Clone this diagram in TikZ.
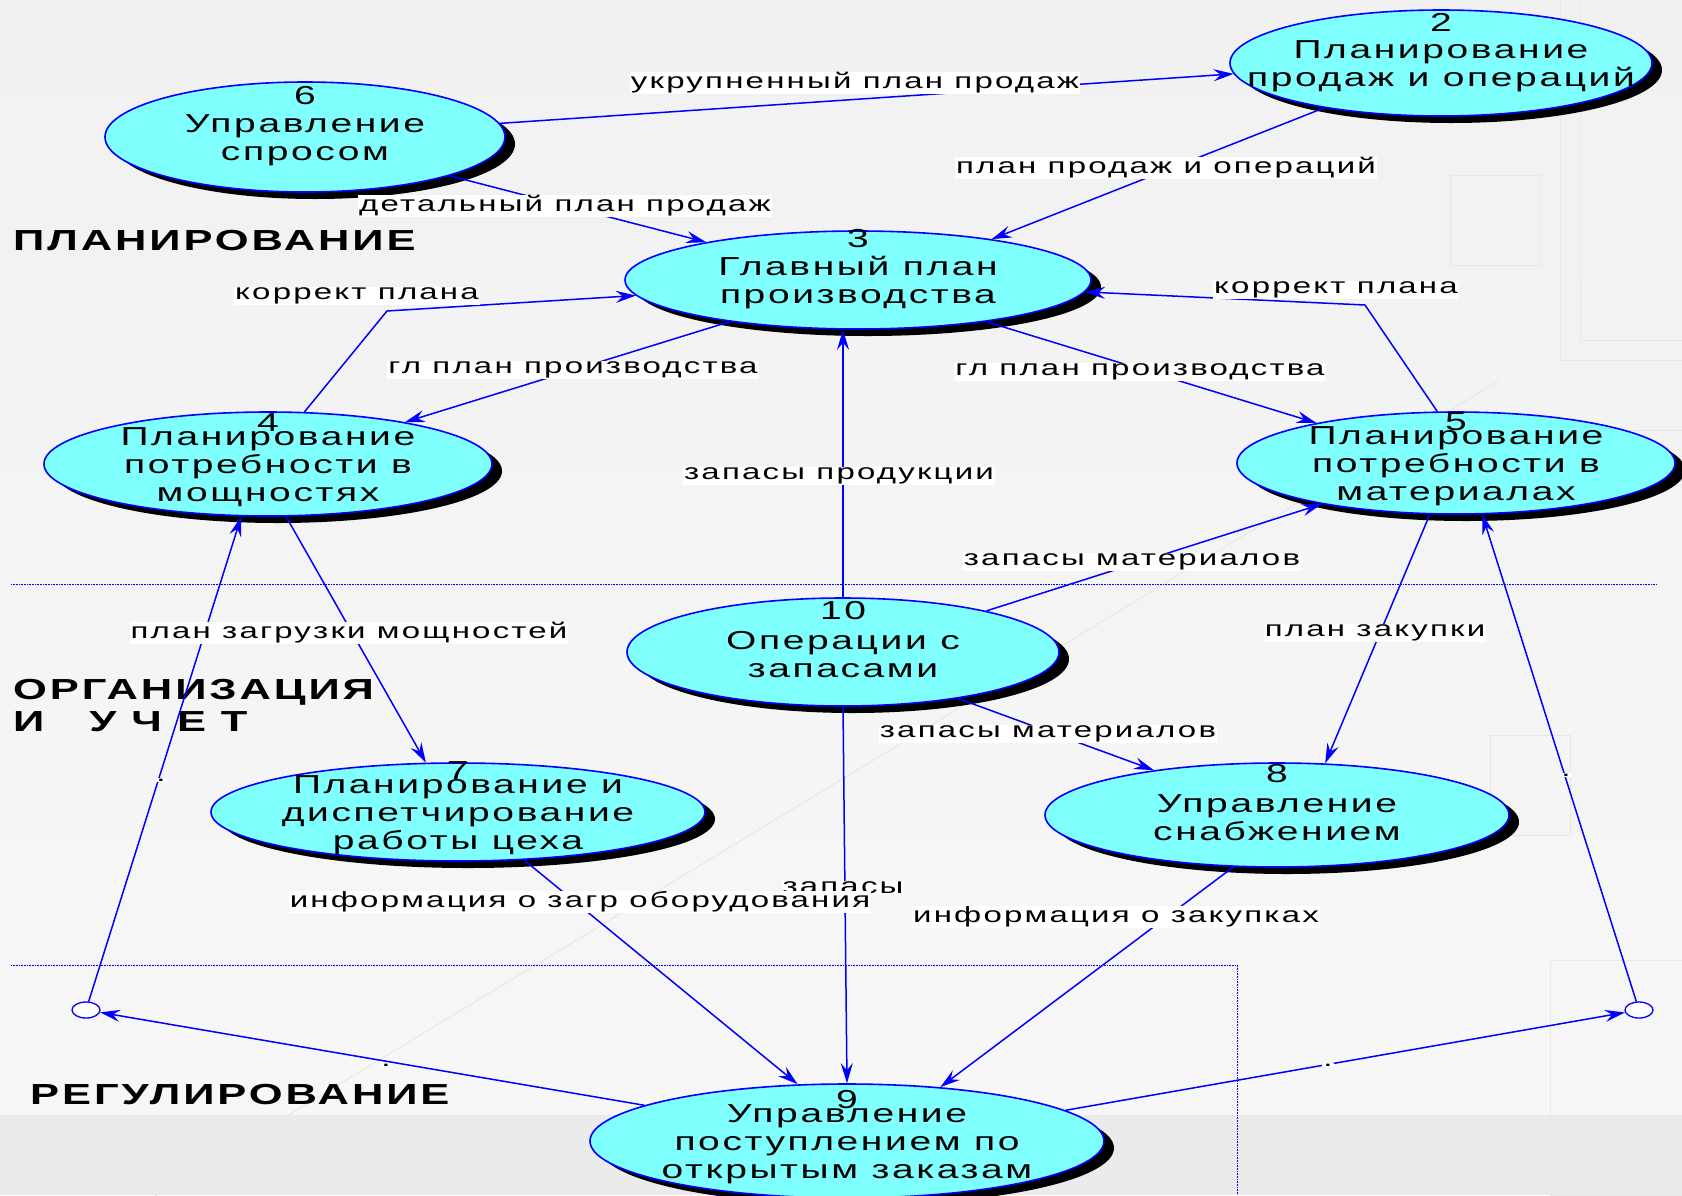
\documentclass[tikz,border=0pt]{standalone}
\usepackage{fontspec}
\setmainfont{Liberation Sans}[FakeStretch=1.5,LetterSpace=10]
\usetikzlibrary{shapes.geometric,arrows.meta,shadows,calc}
\definecolor{cyanfill}{HTML}{80FFFF}
\definecolor{bgtop}{HTML}{F1F1F1}
\definecolor{bgbot}{HTML}{F7F7F7}
\begin{document}
\begin{tikzpicture}[x=1pt,y=-1pt,
  proc/.style={ellipse, draw=blue, line width=1.6pt, fill=cyanfill, inner sep=0pt,
    drop shadow={shadow xshift=10pt, shadow yshift=-7pt, fill=black, opacity=1}},
  ptext/.style={align=center, inner sep=0pt, font=\fontsize{26}{28}\selectfont},
  num/.style={inner sep=0pt, font=\fontsize{26}{28}\selectfont},
  edge/.style={draw=blue, line width=1.5pt, -{Stealth[length=20pt,width=12pt,inset=7pt]}},
  lbl/.style={fill=white, inner sep=1pt, font=\fontsize{22}{24}\selectfont},
  sect/.style={anchor=west, align=left, inner sep=0pt, font=\fontsize{29}{32}\selectfont\bfseries},
  port/.style={ellipse, draw=blue, fill=white, line width=1.3pt, minimum width=28pt, minimum height=16pt, inner sep=0pt},
  sep/.style={draw=blue, densely dotted, line width=0.6pt},
  deco/.style={draw=black!9, line width=1pt}
]
\useasboundingbox (0,0) rectangle (1682,1195);
\clip (0,0) rectangle (1682,1195);
\shade[top color=bgtop, bottom color=bgbot] (0,0) rectangle (1682,1115);
\fill[black!8] (0,1115) rectangle (1682,1195);
% faint decoration
\draw[deco] (0,1290) -- (1500,380);
\draw[deco] (1560,0) -- (1560,360) -- (1682,360);
\draw[deco] (1580,0) -- (1580,340) -- (1682,340);
\draw[deco] (1450,175) rectangle (1540,265);
\draw[deco] (1500,485) rectangle (1682,430);
\draw[deco] (1135,1120) rectangle (1390,1170);
\draw[deco] (1490,735) rectangle (1570,835);
\draw[deco] (1550,960) rectangle (1682,1195);

% separators
\draw[sep] (11,584) -- (1657,584);
\draw[sep] (11,965) -- (1237,965) -- (1237,1195);

% section titles
\node[sect] (s1) at (13,241) {ПЛАНИРОВАНИЕ};
\node[sect] (s2) at (13,706) {ОРГАНИЗАЦИЯ\\И \ \ У Ч Е Т};
\node[sect] (s3) at (30,1095) {РЕГУЛИРОВАНИЕ};

% processes
\node[proc, minimum width=400pt, minimum height=110pt] (n6) at (305,137) {};
\node[proc, minimum width=422pt, minimum height=106pt] (n2) at (1441,63) {};
\node[proc, minimum width=466pt, minimum height=98pt] (n3) at (858,280) {};
\node[proc, minimum width=448pt, minimum height=104pt] (n4) at (268,464) {};
\node[proc, minimum width=438pt, minimum height=102pt] (n5) at (1456,463) {};
\node[proc, minimum width=432pt, minimum height=108pt] (n10) at (843,652) {};
\node[proc, minimum width=494pt, minimum height=98pt] (n7) at (458,812) {};
\node[proc, minimum width=464pt, minimum height=104pt] (n8) at (1277,815) {};
\node[proc, minimum width=514pt, minimum height=114pt] (n9) at (847,1141) {};

\node[port] (pL) at (86,1010) {};
\node[port] (pR) at (1639,1010) {};

% connectors
\draw[edge] (n6.4) -- (n2.183);
\draw[edge] (n2.201) -- (n3.17);
\draw[edge] (n6.-15) -- (n3.166);
\coordinate (b43) at (387,311);
\draw[edge] (n4.55) -- (b43) -- (n3.184);
\draw[edge] (n3.198) -- (n4.17);
\draw[edge] (n3.-18) -- (n5.164);
\coordinate (b53) at (1365,305);
\draw[edge] (n5.110) -- (b53) -- (n3.-3);
\draw[edge] (n10.north) -- (n10.north |- n3.south);
\draw[edge] (n10.16) -- (n5.197);
\draw[edge] (n10.-22) -- (n8.160);
\draw[edge] (n10.south) -- (n9.north);
\draw[edge] (n4.-71) -- (n7.123);
\draw[edge] (pL) -- (n4.-117);
\draw[edge] (n9.170) -- (pL);
\draw[edge] (n9.8) -- (pR);
\draw[edge] (pR) -- (n5.-63);
\draw[edge] (n5.-117) -- (n8.47);
\draw[edge] (n7.-36) -- (n9.131);
\draw[edge] (n8.-130) -- (n9.30);

% process texts
\node[ptext] (t6) at ($(n6)+(0,3)$) {Управление\\спросом};
\node[num] (k6) at ($(n6)+(0,-41)$) {6};
\node[ptext] (t2) at ($(n2)+(0,3)$) {Планирование\\продаж и операций};
\node[num] (k2) at ($(n2)+(0,-41)$) {2};
\node[ptext] (t3) at ($(n3)+(0,3)$) {Главный план\\производства};
\node[num] (k3) at ($(n3)+(0,-41)$) {3};
\node[ptext] (t4) at ($(n4)+(0,3)$) {Планирование\\потребности в\\мощностях};
\node[num] (k4) at ($(n4)+(0,-41)$) {4};
\node[ptext] (t5) at ($(n5)+(0,3)$) {Планирование\\потребности в\\материалах};
\node[num] (k5) at ($(n5)+(0,-41)$) {5};
\node[ptext] (t10) at ($(n10)+(0,3)$) {Операции с\\запасами};
\node[num] (k10) at ($(n10)+(0,-41)$) {10};
\node[ptext] (t7) at ($(n7)+(0,3)$) {Планирование и\\диспетчирование\\работы цеха};
\node[num] (k7) at ($(n7)+(0,-41)$) {7};
\node[ptext] (t8) at ($(n8)+(0,3)$) {Управление\\снабжением};
\node[num] (k8) at ($(n8)+(0,-41)$) {8};
\node[ptext] (t9) at ($(n9)+(0,3)$) {Управление\\поступлением по\\открытым заказам};
\node[num] (k9) at ($(n9)+(0,-41)$) {9};

% labels
\node[lbl] (l1) at (855,83) {укрупненный план продаж};
\node[lbl] (l2) at (1166,168) {план продаж и операций};
\node[lbl] (l3) at (565,206) {детальный план продаж};
\node[lbl] (l4) at (357,296) {коррект плана};
\node[lbl] (l5) at (573,370) {гл план производства};
\node[lbl] (l6) at (1140,372) {гл план производства};
\node[lbl] (l7) at (1336,290) {коррект плана};
\node[lbl] (l8) at (839,476) {запасы продукции};
\node[lbl] (l9) at (1132,562) {запасы материалов};
\node[lbl] (l10) at (349,633) {план загрузки мощностей};
\node[lbl] (l11) at (1375,633) {план закупки};
\node[lbl] (l12) at (1048,734) {запасы материалов};
\node[lbl] (l13) at (843,888) {запасы};
\node[lbl] (l14) at (580,902) {информация о загр оборудования};
\node[lbl] (l15) at (1116,917) {информация о закупках};
\node[lbl] (l16) at (161,780) {.};
\node[lbl] (l17) at (386,1065) {.};
\node[lbl] (l18) at (1328,1065) {.};
\node[lbl] (l19) at (1566,775) {.};
\end{tikzpicture}
\end{document}
